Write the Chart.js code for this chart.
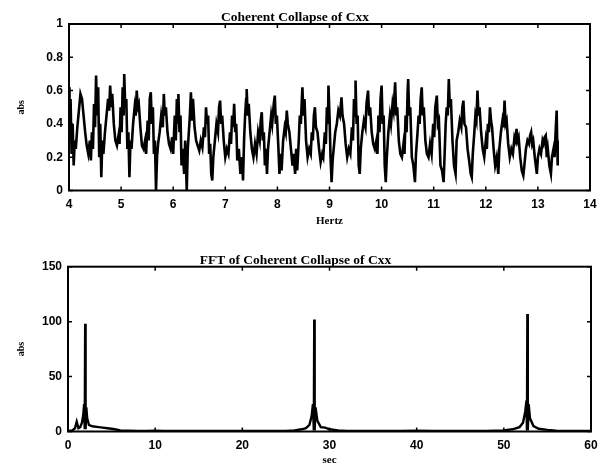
<!DOCTYPE html>
<html>
<head>
<meta charset="utf-8">
<script src="https://cdn.jsdelivr.net/npm/chart.js@4"></script>
<style>
  html, body { margin: 0; padding: 0; background: #fff; }
  #wrap { position: relative; width: 611px; height: 476px; }
  #c1 { position: absolute; left: 0; top: 0; }
  #c2 { position: absolute; left: 0; top: 240px; }
</style>
</head>
<body>
<div id="wrap">
  <canvas id="c1" width="611" height="240"></canvas>
  <canvas id="c2" width="611" height="236"></canvas>
</div>
<script>
// ---------- Top plot: Coherent Collapse of Cxx ----------
const topTitle = 'Coherent Collapse of Cxx';
const topXLabel = 'Hertz';
const topYLabel = 'abs';
const topXTicks = [4, 5, 6, 7, 8, 9, 10, 11, 12, 13, 14];
const topYTicks = [0, 0.2, 0.4, 0.6, 0.8, 1];

const hertz = [
  4.00,4.01,4.03,4.05,4.07,4.09,4.11,4.13,4.16,4.19,4.22,4.25,4.28,4.31,4.34,4.37,4.40,4.42,4.44,4.46,
  4.48,4.50,4.52,4.54,4.56,4.58,4.60,4.62,4.64,4.66,4.69,4.72,4.75,4.77,4.79,4.81,4.83,4.86,4.89,4.92,
  4.95,4.97,4.99,5.01,5.03,5.05,5.06,5.08,5.10,5.12,5.14,5.16,5.18,5.20,5.23,5.26,5.28,5.30,5.32,5.34,
  5.37,5.40,5.43,5.46,5.48,5.51,5.53,5.55,5.57,5.59,5.61,5.63,5.65,5.67,5.69,5.71,5.74,5.77,5.80,5.82,
  5.84,5.86,5.89,5.92,5.95,5.98,6.00,6.03,6.05,6.07,6.09,6.10,6.12,6.14,6.16,6.18,6.21,6.23,6.26,6.28,
  6.30,6.32,6.34,6.36,6.38,6.41,6.44,6.47,6.50,6.53,6.56,6.59,6.61,6.63,6.65,6.67,6.69,6.71,6.73,6.75,
  6.77,6.80,6.83,6.86,6.88,6.90,6.92,6.94,6.97,7.00,7.03,7.06,7.09,7.11,7.13,7.15,7.17,7.19,7.21,7.23,
  7.26,7.29,7.32,7.34,7.36,7.38,7.40,7.41,7.43,7.45,7.48,7.51,7.54,7.57,7.60,7.63,7.66,7.68,7.70,7.72,
  7.74,7.76,7.78,7.80,7.82,7.85,7.88,7.90,7.93,7.95,7.97,7.99,8.02,8.04,8.06,8.08,8.11,8.14,8.16,8.18,
  8.20,8.23,8.26,8.29,8.31,8.34,8.36,8.38,8.41,8.43,8.45,8.47,8.48,8.50,8.52,8.55,8.58,8.61,8.64,8.66,
  8.68,8.70,8.72,8.74,8.77,8.80,8.83,8.86,8.88,8.91,8.93,8.95,8.97,8.98,9.00,9.02,9.04,9.06,9.08,9.11,
  9.14,9.17,9.20,9.23,9.25,9.28,9.31,9.34,9.37,9.40,9.43,9.45,9.47,9.49,9.50,9.52,9.54,9.56,9.58,9.60,
  9.63,9.66,9.69,9.71,9.74,9.76,9.78,9.81,9.84,9.87,9.90,9.92,9.94,9.96,9.98,10.00,10.02,10.04,10.06,10.08,
  10.10,10.13,10.16,10.18,10.21,10.23,10.26,10.28,10.30,10.33,10.36,10.39,10.42,10.44,10.46,10.48,10.50,10.51,10.53,10.55,
  10.58,10.61,10.64,10.66,10.69,10.71,10.73,10.75,10.77,10.79,10.81,10.84,10.87,10.90,10.93,10.96,10.99,11.01,11.03,11.06,
  11.08,11.10,11.13,11.16,11.19,11.21,11.23,11.25,11.27,11.29,11.31,11.33,11.36,11.39,11.42,11.44,11.47,11.50,11.53,11.55,
  11.57,11.59,11.62,11.65,11.68,11.71,11.73,11.75,11.78,11.80,11.82,11.84,11.86,11.88,11.91,11.94,11.97,12.00,12.02,12.04,
  12.06,12.08,12.10,12.12,12.15,12.18,12.21,12.24,12.26,12.29,12.32,12.34,12.36,12.38,12.40,12.43,12.46,12.49,12.52,12.55,
  12.57,12.59,12.61,12.63,12.66,12.69,12.72,12.74,12.77,12.80,12.83,12.85,12.87,12.89,12.91,12.94,12.96,12.98,13.00,13.03,
  13.06,13.09,13.11,13.13,13.15,13.17,13.19,13.22,13.25,13.27,13.30,13.32,13.34,13.36,13.37,13.38
];
const absCxx = [
  0.62,0.35,0.55,0.22,0.40,0.15,0.30,0.25,0.38,0.48,0.58,0.55,0.45,0.35,0.27,0.22,0.30,0.18,0.35,0.25,
  0.52,0.38,0.69,0.45,0.62,0.20,0.40,0.08,0.30,0.22,0.35,0.45,0.55,0.48,0.63,0.50,0.58,0.40,0.30,0.27,
  0.33,0.28,0.50,0.35,0.62,0.45,0.70,0.50,0.55,0.25,0.35,0.08,0.30,0.25,0.40,0.50,0.45,0.60,0.50,0.52,
  0.38,0.27,0.25,0.30,0.22,0.42,0.30,0.55,0.59,0.40,0.50,0.22,0.30,0.00,0.20,0.28,0.35,0.45,0.38,0.58,
  0.45,0.50,0.35,0.28,0.25,0.32,0.22,0.45,0.30,0.55,0.40,0.58,0.35,0.45,0.15,0.25,0.10,0.30,0.00,0.25,
  0.35,0.45,0.59,0.42,0.55,0.38,0.30,0.27,0.24,0.30,0.26,0.38,0.32,0.50,0.40,0.45,0.22,0.28,0.10,0.06,
  0.20,0.30,0.40,0.35,0.50,0.54,0.40,0.45,0.30,0.20,0.25,0.22,0.35,0.28,0.45,0.38,0.52,0.35,0.40,0.18,
  0.25,0.10,0.20,0.06,0.30,0.45,0.55,0.61,0.45,0.52,0.35,0.25,0.20,0.28,0.22,0.35,0.30,0.42,0.47,0.30,
  0.35,0.15,0.25,0.10,0.25,0.35,0.45,0.40,0.52,0.57,0.40,0.45,0.25,0.10,0.22,0.12,0.30,0.38,0.35,0.48,
  0.40,0.35,0.25,0.15,0.22,0.10,0.25,0.12,0.30,0.45,0.40,0.55,0.62,0.45,0.55,0.30,0.20,0.25,0.22,0.35,
  0.30,0.45,0.50,0.38,0.35,0.25,0.17,0.22,0.20,0.35,0.28,0.50,0.40,0.63,0.45,0.20,0.05,0.18,0.25,0.35,
  0.40,0.48,0.45,0.56,0.45,0.40,0.28,0.20,0.25,0.22,0.38,0.30,0.55,0.45,0.66,0.40,0.45,0.15,0.10,0.25,
  0.35,0.42,0.38,0.52,0.60,0.45,0.50,0.35,0.28,0.25,0.30,0.22,0.45,0.35,0.55,0.63,0.40,0.45,0.15,0.05,
  0.20,0.35,0.45,0.40,0.52,0.48,0.65,0.45,0.50,0.30,0.22,0.20,0.28,0.22,0.45,0.35,0.60,0.67,0.45,0.50,
  0.20,0.15,0.05,0.22,0.35,0.45,0.40,0.55,0.62,0.45,0.50,0.30,0.22,0.20,0.28,0.22,0.40,0.32,0.50,0.57,
  0.40,0.42,0.15,0.12,0.05,0.22,0.40,0.50,0.45,0.67,0.50,0.55,0.30,0.15,0.10,0.30,0.35,0.42,0.38,0.50,
  0.54,0.40,0.38,0.25,0.18,0.10,0.08,0.22,0.35,0.45,0.42,0.60,0.45,0.50,0.35,0.25,0.20,0.30,0.25,0.40,
  0.35,0.50,0.42,0.38,0.25,0.15,0.20,0.10,0.25,0.35,0.42,0.38,0.54,0.40,0.42,0.28,0.20,0.25,0.22,0.32,
  0.30,0.37,0.30,0.32,0.20,0.12,0.09,0.15,0.25,0.30,0.28,0.33,0.35,0.28,0.30,0.20,0.15,0.10,0.20,0.25,
  0.22,0.30,0.28,0.32,0.33,0.20,0.25,0.15,0.10,0.20,0.25,0.20,0.35,0.48,0.30,0.15
];

// ---------- Bottom plot: FFT of Coherent Collapse of Cxx ----------
const botTitle = 'FFT of Coherent Collapse of Cxx';
const botXLabel = 'sec';
const botYLabel = 'abs';
const botXTicks = [0, 10, 20, 30, 40, 50, 60];
const botYTicks = [0, 50, 100, 150];

const sec = [
  0.0,0.5,0.8,1.0,1.2,1.4,1.6,1.75,1.85,1.92,1.97,2.02,2.1,2.2,2.4,2.7,3.0,3.5,4.0,4.5,
  5.0,5.5,6.0,7,8,9,10,11,12,13,14,15,16,17,18,19,20,21,22,23,
  24,25,26,26.8,27.3,27.7,27.95,28.1,28.2,28.25,28.3,28.4,28.6,29.0,29.5,30,31,32,34,36,
  38,40,42,44,46,48,49,50,51,51.8,52.2,52.45,52.6,52.65,52.7,52.75,52.85,53.0,53.4,54,
  55,56,58,60
];
const absFFT = [
  0.5,1,3,9,3,4,8,15,25,2,98,2,22,12,6,5,4.5,4,3.5,3,
  2.5,1.8,1,0.8,0.6,0.5,0.7,0.5,0.4,0.6,0.5,0.4,0.6,0.5,0.4,0.6,0.5,0.4,0.5,0.4,
  0.5,0.6,1,2,3,6,14,25,1,102,1,22,10,4,3.5,2,1,0.6,0.5,0.4,
  0.5,0.7,0.5,0.4,0.5,0.5,0.7,1,2,4,8,18,28,1,107,1,25,12,5,2.5,
  1.5,0.8,0.5,0.4
];

// ---------- shared styling ----------
const tickFont = { family: 'Liberation Sans', size: 12, weight: 'bold' };
const titleFont = { family: 'Liberation Serif', size: 13.5, weight: 'bold' };
const labelFont = { family: 'Liberation Serif', size: 11, weight: 'bold' };

const boxPlugin = {
  id: 'matlabBox',
  afterDatasetsDraw(chart) {
    const { ctx, chartArea: a, scales } = chart;
    ctx.save();
    ctx.strokeStyle = '#000';
    ctx.lineWidth = 2;
    ctx.strokeRect(a.left, a.top, a.right - a.left, a.bottom - a.top);
    ctx.lineWidth = 1.5;
    const L = 4;
    scales.x.ticks.forEach((t, i) => {
      const px = scales.x.getPixelForTick(i);
      ctx.beginPath();
      ctx.moveTo(px, a.bottom); ctx.lineTo(px, a.bottom - L);
      ctx.moveTo(px, a.top); ctx.lineTo(px, a.top + L);
      ctx.stroke();
    });
    scales.y.ticks.forEach((t, i) => {
      const py = scales.y.getPixelForTick(i);
      ctx.beginPath();
      ctx.moveTo(a.left, py); ctx.lineTo(a.left + L, py);
      ctx.moveTo(a.right, py); ctx.lineTo(a.right - L, py);
      ctx.stroke();
    });
    ctx.restore();
  }
};

function makeChart(id, cfg) {
  const points = cfg.xs.map((x, i) => ({ x: x, y: cfg.ys[i] }));
  return new Chart(document.getElementById(id), {
    type: 'line',
    data: {
      datasets: [{
        data: points,
        borderColor: '#000',
        borderWidth: cfg.lineWidth,
        pointRadius: 0,
        tension: 0,
        fill: false
      }]
    },
    options: {
      responsive: false,
      animation: false,
      events: [],
      layout: { padding: { left: 0, right: cfg.padRight, top: 0, bottom: 0 } },
      plugins: {
        legend: { display: false },
        tooltip: { enabled: false },
        title: {
          display: true,
          text: cfg.title,
          color: '#000',
          font: titleFont,
          padding: { top: cfg.titlePadTop, bottom: cfg.titlePadBottom }
        }
      },
      scales: {
        x: {
          type: 'linear',
          min: cfg.xTicks[0],
          max: cfg.xTicks[cfg.xTicks.length - 1],
          afterBuildTicks: (s) => { s.ticks = cfg.xTicks.map(v => ({ value: v })); },
          afterFit: (s) => { s.height = cfg.xHeight; },
          grid: { display: false, drawTicks: false },
          border: { display: false },
          ticks: { color: '#000', font: tickFont, padding: 7, maxRotation: 0, autoSkip: false },
          title: {
            display: true, text: cfg.xLabel, color: '#000', font: labelFont,
            padding: { top: 0, bottom: cfg.xTitlePad }
          }
        },
        y: {
          type: 'linear',
          min: cfg.yTicks[0],
          max: cfg.yTicks[cfg.yTicks.length - 1],
          afterBuildTicks: (s) => { s.ticks = cfg.yTicks.map(v => ({ value: v })); },
          afterFit: (s) => { s.width = cfg.yWidth; },
          grid: { display: false, drawTicks: false },
          border: { display: false },
          ticks: { color: '#000', font: tickFont, padding: 6, autoSkip: false,
                   callback: (v) => String(v) },
          title: {
            display: true, text: cfg.yLabel, color: '#000',
            font: { family: 'Liberation Serif', size: 10, weight: 'bold' },
            padding: { top: 15, bottom: 0 }
          }
        }
      }
    },
    plugins: [boxPlugin]
  });
}

makeChart('c1', {
  xs: hertz, ys: absCxx, title: topTitle, xLabel: topXLabel, yLabel: topYLabel,
  xTicks: topXTicks, yTicks: topYTicks, lineWidth: 2.6,
  padRight: 21, titlePadTop: 9, titlePadBottom: -1.2, xHeight: 49.5, yWidth: 69, xTitlePad: 12
});

makeChart('c2', {
  xs: sec, ys: absFFT, title: botTitle, xLabel: botXLabel, yLabel: botYLabel,
  xTicks: botXTicks, yTicks: botYTicks, lineWidth: 2.4,
  padRight: 20, titlePadTop: 12, titlePadBottom: -1.5, xHeight: 44.5, yWidth: 68, xTitlePad: 9
});
</script>
</body>
</html>
